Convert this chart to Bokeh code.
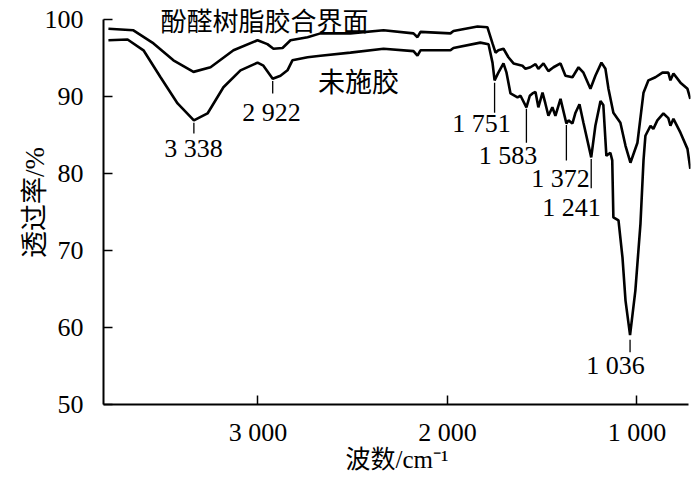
from bokeh.plotting import figure
from bokeh.models import ColumnDataSource, FixedTicker, LabelSet, Label, Range1d
from bokeh.embed import file_html
from bokeh.resources import INLINE

# ---------------- data ----------------
# upper curve: 酚醛树脂胶合界面
wn_glue = [3789, 3657, 3551, 3446, 3340, 3250, 3129, 3002, 2950, 2918, 2870, 2828,
           2738, 2670, 2512, 2337, 2179, 2158, 2142, 1984, 1968, 1841, 1789, 1762,
           1746, 1731, 1704, 1678, 1651, 1604, 1588, 1562, 1535, 1520, 1493, 1467,
           1440, 1403, 1377, 1340, 1308, 1282, 1245, 1219, 1187, 1166, 1150, 1124,
           1087, 1060, 1034, 997, 965, 939, 902, 865, 834, 823, 807, 770, 733, 718]
t_glue = [98.8, 98.6, 96.9, 94.7, 93.2, 93.8, 96.0, 97.3, 96.8, 96.2, 96.3, 97.3,
          97.7, 98.2, 98.2, 98.6, 98.2, 97.7, 98.4, 98.2, 98.5, 99.1, 99.0, 96.9,
          95.7, 96.0, 96.2, 95.1, 94.3, 94.0, 93.6, 93.8, 94.2, 93.6, 94.3, 93.3,
          93.8, 94.3, 92.7, 92.5, 93.8, 93.1, 91.0, 92.7, 94.4, 93.6, 91.0, 87.9,
          86.6, 83.6, 81.4, 84.0, 90.5, 92.1, 92.5, 93.1, 93.1, 92.1, 93.0, 91.8, 91.0, 89.7]

# lower curve: 未施胶
wn_bare = [3789, 3688, 3604, 3514, 3424, 3338, 3266, 3182, 3092, 3002, 2971, 2922,
           2881, 2844, 2818, 2738, 2670, 2512, 2337, 2179, 2158, 2142, 1984, 1968,
           1826, 1783, 1762, 1751, 1731, 1704, 1688, 1667, 1630, 1614, 1583, 1565,
           1551, 1535, 1520, 1498, 1483, 1467, 1446, 1430, 1403, 1372, 1361, 1340,
           1324, 1303, 1282, 1241, 1219, 1192, 1177, 1161, 1140, 1130, 1124, 1097,
           1076, 1060, 1036, 1008, 981, 965, 955, 928, 913, 892, 860, 834, 823, 807,
           770, 733, 718]
t_bare = [97.3, 97.4, 96.0, 92.5, 89.1, 86.9, 87.8, 91.2, 93.4, 94.4, 94.0, 92.3,
          92.7, 93.4, 94.7, 95.1, 95.3, 95.7, 96.2, 95.9, 95.3, 96.0, 96.0, 96.3,
          97.0, 96.8, 94.4, 92.1, 93.1, 94.3, 93.1, 90.4, 89.9, 90.1, 88.6, 90.1,
          90.4, 90.6, 88.6, 90.5, 89.1, 87.5, 88.6, 87.5, 89.7, 86.5, 86.9, 86.5,
          87.9, 89.0, 86.6, 82.1, 86.2, 89.4, 88.9, 82.3, 82.7, 81.7, 74.3, 73.9,
          69.1, 63.5, 59.0, 64.8, 73.5, 81.7, 84.9, 86.2, 85.8, 86.9, 87.8, 87.2, 86.2, 87.1,
          85.3, 83.2, 80.6]

# marked peaks (wavenumber, cm-1)
peak_wn = [3338, 2922, 1751, 1583, 1372, 1241, 1036]

x_ticks = [3000, 2000, 1000]
y_ticks = [50, 60, 70, 80, 90, 100]

# ---------------- layout of the peak marks (not data) ----------------
# (leader top, leader bottom, label x, label y) in axis units
peak_layout = [
    (86.6, 85.2, 3340, 83.2),
    (92.0, 90.4, 2928, 87.9),
    (91.8, 87.9, 1820, 86.5),
    (88.4, 84.0, 1680, 82.3),
    (86.3, 81.7, 1403, 79.4),
    (81.9, 78.1, 1345, 75.6),
    (58.4, 56.8, 1113, 55.1),
]

peak_src = ColumnDataSource(dict(
    x=peak_wn,
    top=[l[0] for l in peak_layout],
    bottom=[l[1] for l in peak_layout],
    lx=[l[2] for l in peak_layout],
    ly=[l[3] for l in peak_layout],
    text=[f"{w:,}".replace(",", " ") for w in peak_wn],
))

SERIF = "Liberation Serif"
MIXED = "Liberation Serif, Noto Sans CJK SC"
CJK = "Noto Sans CJK SC"

p = figure(width=700, height=481, output_backend="svg", toolbar_location=None,
           x_range=Range1d(3815, 717), y_range=Range1d(50, 102.47),
           min_border_left=103, min_border_right=10, min_border_top=0,
           min_border_bottom=77)
p.outline_line_color = None
p.grid.visible = False
p.background_fill_color = "white"
p.border_fill_color = "white"

p.line(wn_glue, t_glue, line_width=2.6, color="black")
p.line(wn_bare, t_bare, line_width=2.6, color="black")

p.segment(x0="x", y0="top", x1="x", y1="bottom", source=peak_src,
          line_color="black", line_width=1.3)
p.add_layout(LabelSet(x="lx", y="ly", text="text", source=peak_src,
                      text_align="center", text_baseline="middle",
                      text_font=SERIF, text_font_size="26px", text_color="black"))

# axes
for ax in (p.xaxis[0], p.yaxis[0]):
    ax.axis_line_width = 2
    ax.axis_line_color = "black"
    ax.major_tick_in = 9
    ax.major_tick_out = 0
    ax.minor_tick_in = 0
    ax.minor_tick_out = 0
    ax.major_tick_line_width = 1.5
    ax.major_tick_line_color = "black"
    ax.major_label_text_font = SERIF
    ax.major_label_text_font_size = "26px"
    ax.major_label_text_color = "black"
    ax.axis_label_text_color = "black"
    ax.axis_label_text_font = MIXED
    ax.axis_label_text_font_style = "normal"

p.xaxis.ticker = FixedTicker(ticks=x_ticks)
p.xaxis.major_label_overrides = {t: f"{t:,}".replace(",", " ") for t in x_ticks}
p.xaxis.bounds = (3815, 728)
p.xaxis.major_label_standoff = 13
p.xaxis.axis_label = "波数/cm⁻¹"
p.xaxis.axis_label_text_font_size = "25px"
p.xaxis.axis_label_standoff = -4

p.yaxis.ticker = FixedTicker(ticks=y_ticks)
p.yaxis.bounds = (50, 100)
p.yaxis.major_label_standoff = 20
p.yaxis.axis_label = "透过率/%"
p.yaxis.axis_label_text_font_size = "27px"
p.yaxis.axis_label_standoff = -8

p.add_layout(Label(x=2965, y=102.4, text="酚醛树脂胶合界面", text_align="center",
                   text_baseline="top", text_font=CJK,
                   text_font_size="26px", text_color="black"))
p.add_layout(Label(x=2469, y=92.08, text="未施胶", text_align="center",
                   text_baseline="middle", text_font=CJK,
                   text_font_size="27px", text_color="black"))

open("out.html", "w").write(file_html(p, INLINE))
